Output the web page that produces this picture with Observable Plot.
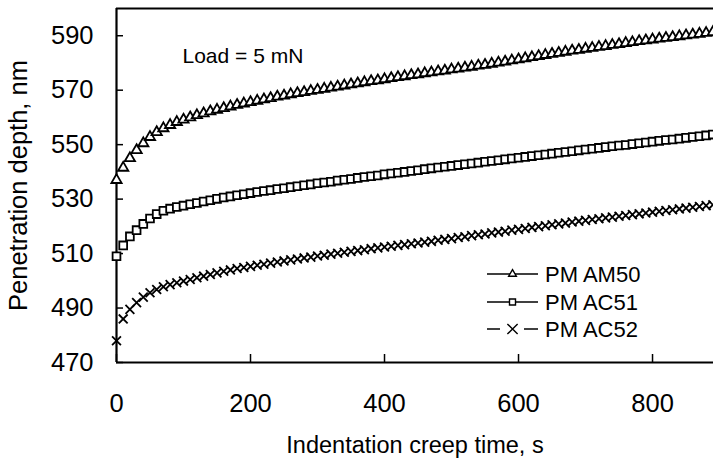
<!DOCTYPE html>
<html><head><meta charset="utf-8">
<script src="https://cdn.jsdelivr.net/npm/d3@7"></script>
<script src="https://cdn.jsdelivr.net/npm/@observablehq/plot@0.6"></script>
<style>body{margin:0;background:#fff}#chart{width:713px;height:467px}</style>
</head><body><div id="chart"></div>
<script>
const time = [0,10,20,30,40,50,60,70,80,90,100,110,120,130,140,150,160,170,180,190,200,210,220,230,240,250,260,270,280,290,300,310,320,330,340,350,360,370,380,390,400,410,420,430,440,450,460,470,480,490,500,510,520,530,540,550,560,570,580,590,600,610,620,630,640,650,660,670,680,690,700,710,720,730,740,750,760,770,780,790,800,810,820,830,840,850,860,870,880,890];
const am50 = [537,541.5,545,548,550.5,552.8,554.6,556,557.2,558.3,559.2,560,560.8,561.5,562.2,562.8,563.4,564,564.6,565.1,565.6,566.1,566.6,567.1,567.6,568,568.5,568.9,569.3,569.7,570.1,570.5,570.9,571.3,571.7,572.1,572.5,572.9,573.3,573.6,574,574.4,574.8,575.1,575.5,575.8,576.2,576.5,576.9,577.2,577.6,577.9,578.3,578.6,579,579.3,579.7,580.1,580.5,580.9,581.3,581.7,582.1,582.5,582.9,583.3,583.7,584.1,584.5,584.8,585.2,585.5,585.9,586.2,586.6,586.9,587.3,587.6,588,588.3,588.6,588.9,589.2,589.5,589.8,590.1,590.4,590.7,591,591.3];
const ac51 = [509,513,516.3,518.6,520.9,522.9,524.5,525.7,526.5,527.1,527.6,528.1,528.6,529.1,529.6,530.1,530.6,531,531.4,531.8,532.2,532.6,533,533.3,533.7,534,534.4,534.7,535.1,535.4,535.8,536.1,536.4,536.8,537.1,537.4,537.8,538.1,538.4,538.7,539.1,539.4,539.7,540,540.3,540.6,541,541.3,541.6,541.9,542.2,542.5,542.8,543.1,543.4,543.7,544,544.3,544.6,544.9,545.2,545.5,545.8,546.1,546.4,546.7,547,547.3,547.6,547.9,548.2,548.5,548.8,549.1,549.4,549.7,549.9,550.2,550.5,550.8,551.1,551.4,551.7,551.9,552.2,552.5,552.8,553.1,553.4,553.7];
const ac52 = [478,486,489.5,492,494,495.6,496.8,497.8,498.6,499.3,499.9,500.5,501.1,501.7,502.3,502.9,503.5,504,504.5,504.9,505.3,505.7,506.1,506.5,506.9,507.3,507.7,508,508.4,508.7,509.1,509.4,509.8,510.1,510.5,510.8,511.1,511.4,511.8,512.1,512.4,512.7,513,513.3,513.6,513.9,514.2,514.5,514.9,515.2,515.5,515.9,516.2,516.6,516.9,517.2,517.6,517.9,518.2,518.6,518.9,519.2,519.6,519.9,520.2,520.6,520.9,521.2,521.6,521.9,522.2,522.5,522.8,523.1,523.4,523.7,524,524.3,524.6,524.9,525.2,525.5,525.8,526.1,526.4,526.7,527,527.3,527.6,527.9];
const seriesNames = ["PM AM50", "PM AC51", "PM AC52"];
const seriesSymbols = ["triangle", "square", "times"];
const xTicks = [0,200,400,600,800];
const yTicks = [470,490,510,530,550,570,590];
const xDomain = [0, 891];
const yDomain = [470, 600];
const xLabel = "Indentation creep time, s";
const yLabel = "Penetration depth, nm";
const noteText = "Load = 5 mN";

const seriesValues = [am50, ac51, ac52];
const tables = seriesValues.map((vals, k) => time.map((t, i) => ({t, v: vals[i], name: seriesNames[k]})));

const font = "Liberation Sans, Arial, sans-serif";
const svg = Plot.plot({
  width: 713, height: 467,
  marginLeft: 116, marginRight: 0, marginTop: 8, marginBottom: 105,
  style: {fontFamily: font, color: "#000", background: "#fff", overflow: "hidden"},
  x: {domain: xDomain},
  y: {domain: yDomain},
  marks: [
    Plot.axisX({ticks: xTicks, tickSize: -8, tickPadding: 39, fontSize: 25.5, strokeWidth: 1.5, label: null}),
    Plot.axisX({ticks: [], tickSize: 0, label: xLabel, labelAnchor: "center", labelArrow: "none", labelOffset: 90, fontSize: 23.5}),
    Plot.axisY({ticks: yTicks, tickSize: -7, tickPadding: 30, fontSize: 25.5, strokeWidth: 1.5,
      label: yLabel, labelAnchor: "center", labelArrow: "none", labelOffset: 108}),
    Plot.ruleY([yDomain[0]], {stroke: "#000", strokeWidth: 2.2}),
    Plot.ruleY([yDomain[1]], {stroke: "#000", strokeWidth: 2.2}),
    Plot.ruleX([xDomain[0]], {stroke: "#000", strokeWidth: 2.2}),
    Plot.dot(tables[0], {x: "t", y: "v", symbol: seriesSymbols[0], r: 3.8, fill: "#fff", stroke: "#000", strokeWidth: 1.8}),
    Plot.dot(tables[1], {x: "t", y: "v", symbol: seriesSymbols[1], r: 4.4, fill: "#fff", stroke: "#000", strokeWidth: 1.8}),
    Plot.dot(tables[2], {x: "t", y: "v", symbol: seriesSymbols[2], r: 4.1, fill: "none", stroke: "#000", strokeWidth: 1.8}),
    Plot.text([noteText], {frameAnchor: "top-left", dx: 66, dy: 48, fontSize: 21, textAnchor: "start", lineAnchor: "middle", fill: "#000"})
  ]
});

// legend inside the plot
const g = d3.select(svg).append("g").attr("font-family", font).attr("font-size", 22).attr("text-anchor", "start");
const rowsY = [274, 302, 329];
const sym = {triangle: d3.symbolTriangle, square: d3.symbolSquare, times: d3.symbolTimes};
const symSize = {triangle: 26, square: 36, times: 70};
seriesNames.forEach((name, i) => {
  const y = rowsY[i];
  const s = seriesSymbols[i];
  if (s === "times") {
    g.append("line").attr("x1", 487).attr("x2", 500).attr("y1", y).attr("y2", y).attr("stroke", "#000").attr("stroke-width", 1.5);
    g.append("line").attr("x1", 524).attr("x2", 538).attr("y1", y).attr("y2", y).attr("stroke", "#000").attr("stroke-width", 1.5);
  } else {
    g.append("line").attr("x1", 487).attr("x2", 538).attr("y1", y).attr("y2", y).attr("stroke", "#000").attr("stroke-width", 1.5);
  }
  g.append("path").attr("d", d3.symbol(sym[s], symSize[s])()).attr("transform", `translate(512.5,${y})`)
    .attr("fill", s === "times" ? "none" : "#fff").attr("stroke", "#000").attr("stroke-width", 1.4);
  g.append("text").attr("x", 545).attr("y", y + 7.5).attr("text-anchor", "start").text(name).attr("fill", "#000");
});

document.getElementById("chart").appendChild(svg);
</script></body></html>
